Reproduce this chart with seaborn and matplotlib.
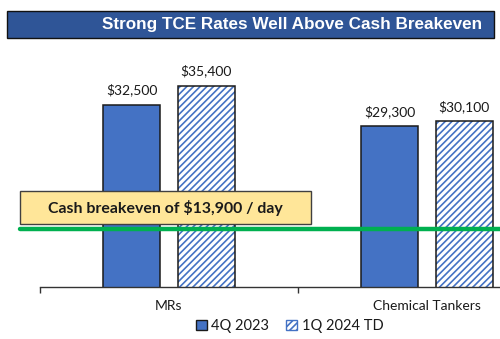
import matplotlib
matplotlib.use('Agg')
import matplotlib.pyplot as plt
import seaborn as sns
import pandas as pd
from matplotlib.patches import Patch, Rectangle

categories = ['MRs', 'Chemical Tankers']
series = ['4Q 2023', '1Q 2024 TD']
rates_4q2023 = [32500, 29300]
rates_1q2024 = [35400, 30100]
breakeven = 13900
title = 'Strong TCE Rates Well Above Cash Breakeven'
breakeven_label = 'Cash breakeven of $13,900 / day'

BLUE = '#4472C4'
DARK = '#1A1A1A'
GREEN = '#00B050'

df = pd.DataFrame({
    'cat': categories * 2,
    'series': [series[0]] * len(categories) + [series[1]] * len(categories),
    'rate': rates_4q2023 + rates_1q2024,
})

sns.set_theme(style='white')
plt.rcParams['font.family'] = ['Lato', 'DejaVu Sans']
plt.rcParams['hatch.linewidth'] = 1.2

W, H = 500, 339
fig = plt.figure(figsize=(W / 100, H / 100), dpi=100)
ax = fig.add_axes([40 / W, (H - 287) / H, 516 / W, (287 - 40) / H])

sns.barplot(data=df, x='cat', y='rate', hue='series', order=categories,
            hue_order=series, palette=[BLUE, 'white'], width=0.576, gap=0.236,
            saturation=1, edgecolor=BLUE, linewidth=0, legend=False,
            errorbar=None, ax=ax)
for p in ax.containers[1]:
    p.set_hatch('/////')
    p.set_edgecolor(BLUE)

sns.barplot(data=df, x='cat', y='rate', hue='series', order=categories,
            hue_order=series, palette=[DARK, DARK], width=0.576, gap=0.236,
            saturation=1, fill=False, linewidth=1.1, legend=False,
            errorbar=None, ax=ax)

for c in ax.containers[2:]:
    ax.bar_label(c, fmt=lambda v: f'${v:,.0f}', padding=6, fontsize=10,
                 color=DARK)

ax.set_xlim(-0.5, 1.5)
ax.set_ylim(5300, 42210)
ax.set_yticks([])
ax.set_xlabel('')
ax.set_ylabel('')
ax.set_xticks([-0.5, 0.5, 1.5])
ax.set_xticklabels([])
ax.set_xticks([0, 1], categories, minor=True)
ax.tick_params(axis='x', which='major', bottom=True, length=4, width=1,
               color='#333333', direction='out')
ax.tick_params(axis='x', which='minor', bottom=True, length=0, pad=9,
               labelsize=10, labelcolor=DARK)
for s in ['left', 'top', 'right']:
    ax.spines[s].set_visible(False)
ax.spines['bottom'].set_color('#333333')
ax.spines['bottom'].set_linewidth(1)

ax.axhline(breakeven, xmin=-20 / 516, xmax=1, color=GREEN, lw=3.2,
           clip_on=False, zorder=6)

# yellow annotation box
fig.patches.append(Rectangle((20 / W, 1 - 224 / H), 291 / W, 33 / H,
                             transform=fig.transFigure, facecolor='#FFE699',
                             edgecolor='#404040', lw=1, zorder=2))
fig.text(165.5 / W, 1 - 208 / H, breakeven_label, ha='center', va='center',
         fontsize=11.4, fontweight='bold', color=DARK, zorder=3)

# title bar
fig.patches.append(Rectangle((7 / W, 1 - 38 / H), 487 / W, 27 / H,
                             transform=fig.transFigure, facecolor='#2F5597',
                             edgecolor='#111111', lw=1, zorder=2))
fig.text(482 / W, 1 - 24.5 / H, title, ha='right', va='center', color='white',
         fontsize=12.3, fontweight='bold', family=['Liberation Sans', 'DejaVu Sans'],
         zorder=3)

handles = [Patch(facecolor=BLUE, edgecolor=DARK, lw=1),
           Patch(facecolor='white', edgecolor=BLUE, hatch='/////', lw=1)]
fig.legend(handles, series, loc='center', bbox_to_anchor=(0.579, 1 - 326 / H),
           ncol=2, frameon=False, handlelength=0.75, handleheight=0.75,
           handletextpad=0.3, columnspacing=1.2, fontsize=10.5,
           labelcolor=DARK)

fig.savefig('out.png', dpi=100, facecolor='white')
